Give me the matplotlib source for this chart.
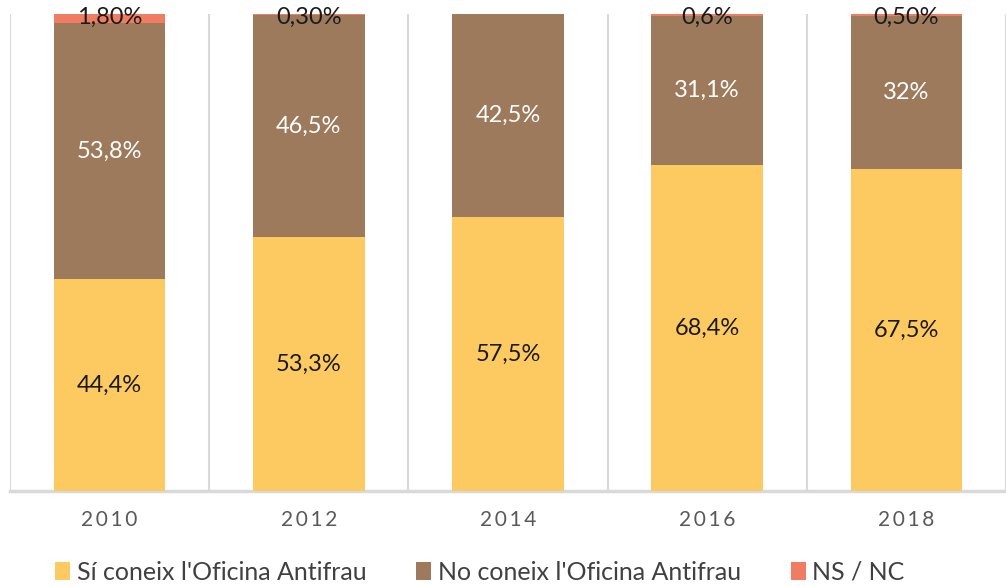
import numpy as np
import matplotlib.pyplot as plt

plt.rcParams['font.family'] = ['Lato', 'DejaVu Sans']

years = ['2010', '2012', '2014', '2016', '2018']
si = [44.4, 53.3, 57.5, 68.4, 67.5]
no = [53.8, 46.5, 42.5, 31.1, 32.0]
nsnc = [1.8, 0.3, 0.0, 0.6, 0.5]
si_lbl = ['44,4%', '53,3%', '57,5%', '68,4%', '67,5%']
no_lbl = ['53,8%', '46,5%', '42,5%', '31,1%', '32%']
ns_lbl = ['1,80%', '0,30%', '', '0,6%', '0,50%']

c_si = '#FDCA62'
c_no = '#9C7A5B'
c_ns = '#F07D62'

fig = plt.figure(figsize=(10.06, 5.86), dpi=100)
ax = fig.add_axes([10 / 1006, 95 / 586, 996 / 1006, (491 - 14) / 586])

x = np.arange(len(years))
w = 0.56
b1 = ax.bar(x, si, w, color=c_si, label="Sí coneix l'Oficina Antifrau", zorder=3)
b2 = ax.bar(x, no, w, bottom=si, color=c_no, label="No coneix l'Oficina Antifrau", zorder=3)
bot3 = np.array(si) + np.array(no)
b3 = ax.bar(x, nsnc, w, bottom=bot3, color=c_ns, label='NS / NC', zorder=3)

for i in range(len(years)):
    ax.text(x[i], si[i] / 2, si_lbl[i], ha='center', va='center', fontsize=17, color='#1a1a1a', zorder=5)
    ax.text(x[i], si[i] + no[i] / 2, no_lbl[i], ha='center', va='center', fontsize=17, color='white', zorder=5)
    if ns_lbl[i]:
        ax.text(x[i], 99.3, ns_lbl[i], ha='center', va='center', fontsize=17, color='#1a1a1a', zorder=5, clip_on=False)

ax.set_xlim(-0.5, 4.5)
ax.set_ylim(0, 100)
for xv in np.arange(-0.5, 4.6, 1):
    ax.axvline(xv, color='#D9D9D9', lw=1.5, zorder=1)

for s in ['top', 'right', 'left']:
    ax.spines[s].set_visible(False)
ax.spines['bottom'].set_color('#D9D9D9')
ax.spines['bottom'].set_linewidth(2.5)
ax.set_yticks([])
ax.set_xticks(x)
# lletres espaiades com a l'original
ax.set_xticklabels(['\u2009'.join(y) for y in years], fontsize=15, color='#595959')
ax.tick_params(axis='x', length=0, pad=14)

fig.legend(handles=[b1, b2, b3], loc='lower center', bbox_to_anchor=(0.477, 0.0), ncol=3,
           frameon=False, fontsize=18, handlelength=0.6, handleheight=0.7, handletextpad=0.25,
           columnspacing=2.0, labelcolor='#404040', borderaxespad=0, borderpad=0.1)

fig.savefig('out.png', dpi=100)
